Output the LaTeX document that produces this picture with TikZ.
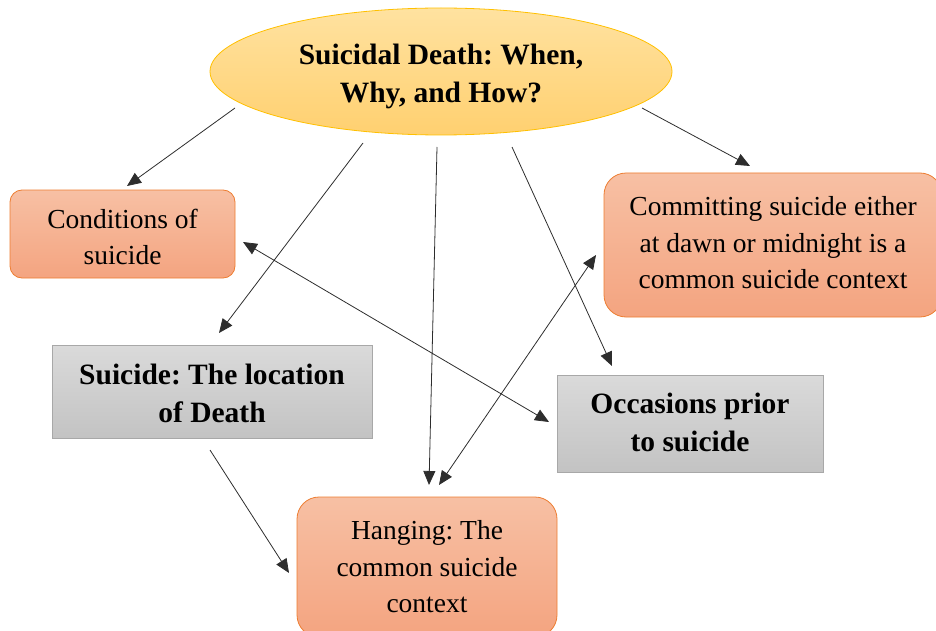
\documentclass[tikz,border=0pt]{standalone}
\usepackage{fontspec}
\setmainfont{Liberation Serif}
\usetikzlibrary{arrows.meta,shapes.geometric}

\definecolor{ovaltop}{RGB}{255,226,160}
\definecolor{ovalbot}{RGB}{255,208,112}
\definecolor{ovalline}{RGB}{255,192,0}
\definecolor{orangetop}{RGB}{247,192,164}
\definecolor{orangebot}{RGB}{244,164,128}
\definecolor{orangeline}{RGB}{237,125,49}
\definecolor{graytop}{RGB}{218,218,218}
\definecolor{graybot}{RGB}{195,195,195}
\definecolor{grayline}{RGB}{168,168,168}
\definecolor{linkcol}{RGB}{45,45,45}

\tikzset{
  oval/.style={ellipse, draw=ovalline, line width=0.8pt, top color=ovaltop,
    bottom color=ovalbot, inner sep=0pt},
  softbox/.style={rectangle, rounded corners=#1, draw=orangeline, line width=0.8pt,
    top color=orangetop, bottom color=orangebot, inner sep=0pt},
  greybox/.style={rectangle, draw=grayline, line width=0.8pt,
    top color=graytop, bottom color=graybot, inner sep=0pt},
  plaintext/.style={inner sep=0pt, align=center,
    font=\fontsize{27.5}{36.5}\selectfont},
  boldtext/.style={inner sep=0pt, align=center,
    font=\fontsize{29.5}{38}\selectfont\bfseries},
  link/.style={-{Triangle[length=14pt,width=12pt]}, draw=linkcol, line width=0.8pt},
  duallink/.style={{Triangle[length=14pt,width=12pt]}-{Triangle[length=14pt,width=12pt]},
    draw=linkcol, line width=0.8pt}
}

\begin{document}
\frenchspacing
\begin{tikzpicture}[x=1pt,y=-1pt]
\useasboundingbox (0,0) rectangle (936,631);

% central question
\node[oval, minimum width=462pt, minimum height=127pt] (title) at (441,71.5) {};
\node[boldtext] (titletext) at ([yshift=-5pt]title.center)
  {Suicidal Death: When,\\Why, and How?};

% themes
\node[softbox=12pt, minimum width=225pt, minimum height=88pt] (cond) at (122.5,234) {};
\node[plaintext] (condtext) at ([yshift=-3pt]cond.center) {Conditions of\\suicide};

\node[softbox=22pt, minimum width=338pt, minimum height=144pt] (commit) at (773,245) {};
\node[plaintext] (committext) at ([yshift=2pt]commit.center)
  {Committing suicide either\\at dawn or midnight is a\\common suicide context};

\node[greybox, minimum width=320pt, minimum height=93pt] (loc) at (212,391.5) {};
\node[boldtext] (loctext) at ([yshift=-2pt]loc.center) {Suicide: The location\\of Death};

\node[greybox, minimum width=266pt, minimum height=97pt] (occ) at (690,423.5) {};
\node[boldtext] (occtext) at ([yshift=1pt]occ.center) {Occasions prior\\to suicide};

\node[softbox=22pt, minimum width=260pt, minimum height=140pt] (hang) at (427,567) {};
\node[plaintext] (hangtext) at (hang.center) {Hanging: The\\common suicide\\context};

% connector end points
\coordinate (tA) at (235,108);  \coordinate (condTop) at (127,186);
\coordinate (tB) at (363,143);  \coordinate (locTop)  at (219,333);
\coordinate (tC) at (437,147);  \coordinate (hangTopA) at (429,485);
\coordinate (tD) at (512,147);  \coordinate (occTop)  at (612,366);
\coordinate (tE) at (642,108);  \coordinate (commitTop) at (750,166);
\coordinate (condRight) at (243,242); \coordinate (occLeft) at (549,422);
\coordinate (commitLeft) at (596,255); \coordinate (hangTopB) at (439,485);
\coordinate (locBottom) at (210,450); \coordinate (hangLeft) at (289,573);

% connectors
\draw[link] (tA) -- (condTop);
\draw[link] (tB) -- (locTop);
\draw[link] (tC) -- (hangTopA);
\draw[link] (tD) -- (occTop);
\draw[link] (tE) -- (commitTop);
\draw[duallink] (condRight) -- (occLeft);
\draw[duallink] (commitLeft) -- (hangTopB);
\draw[link] (locBottom) -- (hangLeft);
\end{tikzpicture}
\end{document}
